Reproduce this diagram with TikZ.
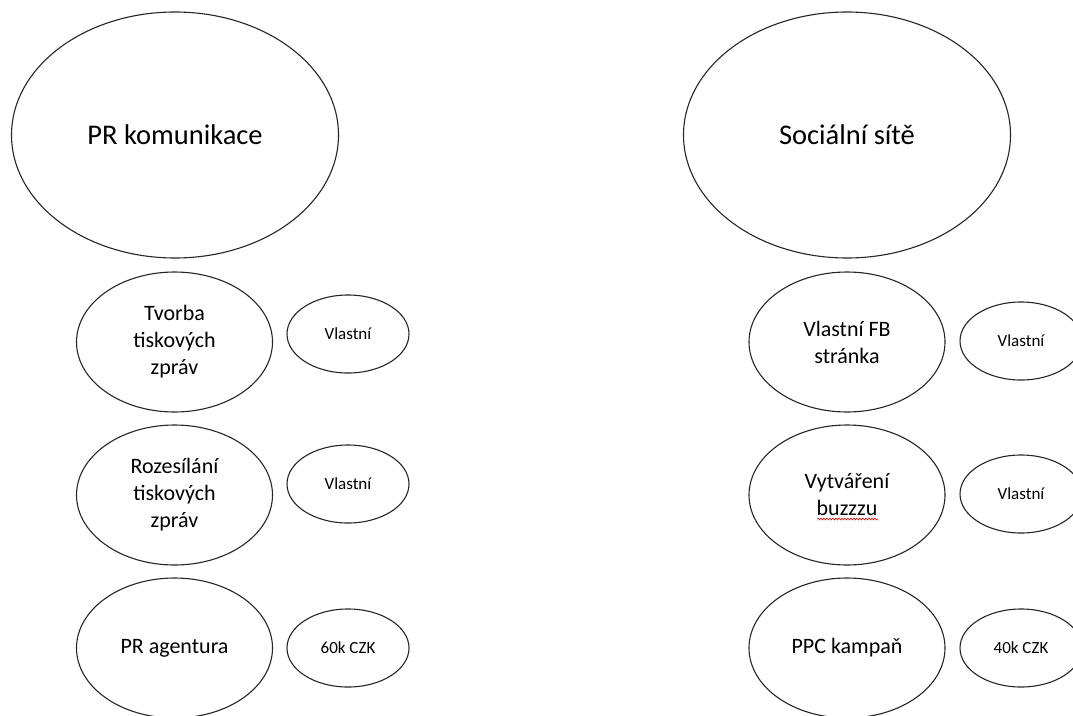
\documentclass[tikz,border=0pt]{standalone}
\usepackage{fontspec}
\setmainfont{Carlito}
\usetikzlibrary{shapes.geometric,decorations.pathmorphing}
\tikzset{
  oval/.style={ellipse, draw=black!85, line width=1.1pt, inner sep=0pt, align=center, text=black},
  bigoval/.style={oval, minimum width=327pt, minimum height=246pt, font=\fontsize{28.5}{34}\selectfont},
  midoval/.style={oval, minimum width=196pt, minimum height=140pt, font=\fontsize{22}{27}\selectfont},
  smalloval/.style={oval, minimum width=122pt, minimum height=78pt, font=\fontsize{17}{20}\selectfont},
  spellmark/.style={draw=red!85!black, line width=0.6pt, decorate, decoration={snake, amplitude=0.9pt, segment length=3pt}}
}
\begin{document}
\begin{tikzpicture}[x=1pt, y=-1pt]
\useasboundingbox (0,0) rectangle (1073,715);
\fill[white] (0,0) rectangle (1073,715);
% left column
\node[bigoval] (pr) at (175,135) {PR komunikace};
\node[midoval] (tvorba) at (174.5,342) {Tvorba\\tiskových\\zpráv};
\node[midoval] (rozes) at (174.5,495) {Rozesílání\\tiskových\\zpráv};
\node[midoval] (agent) at (174.5,648) {PR agentura};
\node[smalloval] (v1) at (348,334) {Vlastní};
\node[smalloval] (v2) at (348,484) {Vlastní};
\node[smalloval] (c60) at (348,648) {60k CZK};
% right column
\node[bigoval] (soc) at (847,135) {Sociální sítě};
\node[midoval] (fb) at (847,342) {Vlastní FB\\stránka};
\node[midoval] (buzz) at (847,495) {Vytváření\\buzzzu};
\node[midoval] (ppc) at (847,648) {PPC kampaň};
\node[smalloval] (v3) at (1021,341) {Vlastní};
\node[smalloval] (v4) at (1021,494) {Vlastní};
\node[smalloval] (c40) at (1021,648) {40k CZK};
% spelling underline
\coordinate (ul1) at (817,519);
\coordinate (ul2) at (878,519);
\draw[spellmark] (ul1) -- (ul2);
\end{tikzpicture}
\end{document}
